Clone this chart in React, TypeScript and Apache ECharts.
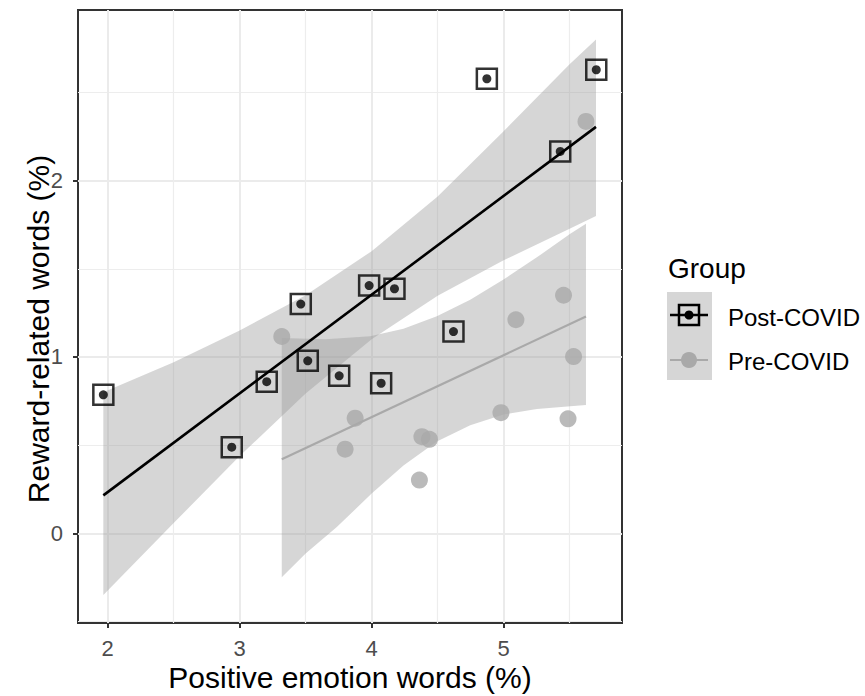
import React, { useEffect, useRef } from "react";
import * as echarts from "echarts";

// ---- Data ----
// Post-COVID observations
const postX = [1.967, 2.940, 3.205, 3.463, 3.516, 3.754, 3.981, 4.072, 4.173, 4.620, 4.873, 5.429, 5.702];
const postY = [0.785, 0.488, 0.860, 1.300, 0.978, 0.893, 1.405, 0.851, 1.387, 1.144, 2.578, 2.166, 2.629];
// Pre-COVID observations
const preX = [3.319, 3.799, 3.875, 4.362, 4.381, 4.438, 4.980, 5.093, 5.454, 5.488, 5.530, 5.624];
const preY = [1.116, 0.477, 0.653, 0.302, 0.548, 0.533, 0.684, 1.211, 1.350, 0.649, 1.002, 2.336];

// Fitted lines (end points)
const postFitX = [1.967, 5.700];
const postFitY = [0.215, 2.305];
const preFitX = [3.319, 5.624];
const preFitY = [0.420, 1.229];

// Confidence bands (edges)
const postBandX = [1.967, 2.5, 3.0, 3.5, 4.0, 4.5, 5.0, 5.5, 5.700];
const postUpperY = [0.80, 0.97, 1.15, 1.35, 1.60, 1.91, 2.28, 2.66, 2.80];
const postLowerY = [-0.35, 0.058, 0.438, 0.793, 1.101, 1.347, 1.548, 1.727, 1.80];

const preUpperX = [3.319, 3.65, 3.989, 4.241, 4.494, 4.747, 4.999, 5.252, 5.505, 5.624];
const preUpperY = [1.107, 1.100, 1.117, 1.160, 1.231, 1.325, 1.439, 1.565, 1.699, 1.755];
const preLowerX = [3.319, 3.5, 3.736, 4.0, 4.241, 4.494, 4.747, 4.999, 5.252, 5.505, 5.624];
const preLowerY = [-0.25, -0.115, 0.035, 0.225, 0.385, 0.52, 0.612, 0.673, 0.705, 0.72, 0.728];

// Axes
const xMajorTicks = [2, 3, 4, 5];
const xMinorTicks = [2.5, 3.5, 4.5, 5.5];
const yMajorTicks = [0, 1, 2];
const yMinorTicks = [-0.5, 0.5, 1.5, 2.5];
const xRange = [1.775, 5.897];
const yRange = [-0.509, 2.968];

const groupNames = ["Post-COVID", "Pre-COVID"];
const legendTitle = "Group";
const xTitle = "Positive emotion words (%)";
const yTitle = "Reward-related words (%)";

const FONT = "'Liberation Sans', Arial, Helvetica, sans-serif";
const BAND_FILL = "rgba(153,153,153,0.4)";
const PRE_COLOR = "#a9a9a9";

function pairs(xs: number[], ys: number[]) {
  return xs.map((x, i) => [x, ys[i]]);
}

function bandSeries(ux: number[], uy: number[], lx: number[], ly: number[], name: string) {
  return {
    type: "custom",
    name,
    coordinateSystem: "cartesian2d",
    xAxisIndex: 0,
    yAxisIndex: 0,
    silent: true,
    clip: true,
    data: [[ux[0], uy[0]]],
    renderItem: (_params: any, api: any) => {
      const pts: number[][] = [];
      for (let i = 0; i < ux.length; i++) pts.push(api.coord([ux[i], uy[i]]));
      for (let i = lx.length - 1; i >= 0; i--) pts.push(api.coord([lx[i], ly[i]]));
      return {
        type: "polygon",
        shape: { points: pts },
        style: { fill: BAND_FILL },
      };
    },
  };
}

export default function App() {
  const ref = useRef<HTMLDivElement>(null);

  useEffect(() => {
    if (!ref.current) return;
    const chart = echarts.init(ref.current, null, { renderer: "svg" });

    const majorX = {
      type: "value",
      min: xRange[0],
      max: xRange[1],
      position: "bottom",
      axisLine: { show: false, onZero: false },
      axisTick: {
        show: true,
        customValues: xMajorTicks,
        length: 5,
        lineStyle: { color: "#333333", width: 2 },
      },
      axisLabel: {
        customValues: xMajorTicks,
        fontSize: 22,
        color: "#4d4d4d",
        fontFamily: FONT,
        margin: 14,
      },
      splitLine: { show: true, lineStyle: { color: "#ebebeb", width: 2 } },
      name: xTitle,
      nameLocation: "middle",
      nameGap: 39,
      nameMoveOverlap: false,
      nameTextStyle: { fontSize: 30, color: "#000000", fontFamily: FONT },
    };
    const minorX = {
      type: "value",
      min: xRange[0],
      max: xRange[1],
      position: "bottom",
      axisLine: { show: false, onZero: false },
      axisTick: { show: false, customValues: xMinorTicks },
      axisLabel: { show: false, customValues: xMinorTicks },
      splitLine: { show: true, lineStyle: { color: "#ededed", width: 1.2 } },
    };
    const majorY = {
      type: "value",
      min: yRange[0],
      max: yRange[1],
      position: "left",
      axisLine: { show: false, onZero: false },
      axisTick: {
        show: true,
        customValues: yMajorTicks,
        length: 5,
        lineStyle: { color: "#333333", width: 2 },
      },
      axisLabel: {
        customValues: yMajorTicks,
        fontSize: 22,
        color: "#4d4d4d",
        fontFamily: FONT,
        margin: 15,
      },
      splitLine: { show: true, lineStyle: { color: "#ebebeb", width: 2 } },
      name: yTitle,
      nameLocation: "middle",
      nameGap: 25,
      nameMoveOverlap: false,
      nameTextStyle: { fontSize: 30, color: "#000000", fontFamily: FONT, padding: [0, 25, 0, 0] },
    };
    const minorY = {
      type: "value",
      min: yRange[0],
      max: yRange[1],
      position: "left",
      axisLine: { show: false, onZero: false },
      axisTick: { show: false, customValues: yMinorTicks },
      axisLabel: { show: false, customValues: yMinorTicks },
      splitLine: { show: true, lineStyle: { color: "#ededed", width: 1.2 } },
    };

    const option: any = {
      animation: false,
      backgroundColor: "#ffffff",
      textStyle: { fontFamily: FONT },
      grid: {
        left: 78,
        right: 243,
        top: 10,
        bottom: 73,
        show: true,
        backgroundColor: "#ffffff",
        borderColor: "#333333",
        borderWidth: 2,
        outerBoundsMode: "none",
        containLabel: false,
      },
      xAxis: [majorX, minorX],
      yAxis: [majorY, minorY],
      series: [
        {
          type: "scatter",
          name: groupNames[0],
          xAxisIndex: 0,
          yAxisIndex: 0,
          symbol: "rect",
          symbolSize: 20,
          data: pairs(postX, postY),
          itemStyle: { color: "rgba(0,0,0,0)", borderColor: "#000000", borderWidth: 2.5 },
          silent: true,
        },
        {
          type: "scatter",
          name: groupNames[0] + " dot",
          xAxisIndex: 0,
          yAxisIndex: 0,
          symbol: "circle",
          symbolSize: 9,
          data: pairs(postX, postY),
          itemStyle: { color: "#000000" },
          silent: true,
        },
        {
          type: "scatter",
          name: groupNames[1],
          xAxisIndex: 0,
          yAxisIndex: 0,
          symbol: "circle",
          symbolSize: 17,
          data: pairs(preX, preY),
          itemStyle: { color: PRE_COLOR },
          silent: true,
        },
        bandSeries(postBandX, postUpperY, postBandX, postLowerY, groupNames[0] + " band"),
        {
          type: "line",
          name: groupNames[0] + " fit",
          xAxisIndex: 0,
          yAxisIndex: 0,
          data: pairs(postFitX, postFitY),
          symbol: "none",
          lineStyle: { color: "#000000", width: 2.6 },
          silent: true,
        },
        bandSeries(preUpperX, preUpperY, preLowerX, preLowerY, groupNames[1] + " band"),
        {
          type: "line",
          name: groupNames[1] + " fit",
          xAxisIndex: 0,
          yAxisIndex: 0,
          data: pairs(preFitX, preFitY),
          symbol: "none",
          lineStyle: { color: PRE_COLOR, width: 2.2 },
          silent: true,
        },
      ],
      graphic: [
        {
          type: "text",
          x: 668,
          y: 268,
          style: {
            text: legendTitle,
            fontSize: 28,
            fontFamily: FONT,
            fill: "#000000",
            align: "left",
            verticalAlign: "middle",
          },
        },
        {
          type: "rect",
          shape: { x: 667, y: 292, width: 45, height: 88 },
          style: { fill: "#d6d6d6" },
        },
        {
          type: "line",
          shape: { x1: 670, y1: 315, x2: 708, y2: 315 },
          style: { stroke: "#000000", lineWidth: 2.6 },
        },
        {
          type: "rect",
          shape: { x: 679, y: 305, width: 20, height: 20 },
          style: { fill: "none", stroke: "#000000", lineWidth: 2.5 },
        },
        {
          type: "circle",
          shape: { cx: 689, cy: 315, r: 4.5 },
          style: { fill: "#000000" },
        },
        {
          type: "line",
          shape: { x1: 670, y1: 360, x2: 708, y2: 360 },
          style: { stroke: PRE_COLOR, lineWidth: 2.2 },
        },
        {
          type: "circle",
          shape: { cx: 689, cy: 360, r: 8 },
          style: { fill: PRE_COLOR },
        },
        {
          type: "text",
          x: 728,
          y: 317,
          style: {
            text: groupNames[0],
            fontSize: 24,
            fontFamily: FONT,
            fill: "#000000",
            align: "left",
            verticalAlign: "middle",
          },
        },
        {
          type: "text",
          x: 728,
          y: 361,
          style: {
            text: groupNames[1],
            fontSize: 24,
            fontFamily: FONT,
            fill: "#000000",
            align: "left",
            verticalAlign: "middle",
          },
        },
      ],
    };

    chart.setOption(option);
    return () => {
      chart.dispose();
    };
  }, []);

  return (
    <div
      ref={ref}
      style={{ position: "fixed", left: 0, top: 0, width: 865, height: 696, background: "#ffffff" }}
    />
  );
}
